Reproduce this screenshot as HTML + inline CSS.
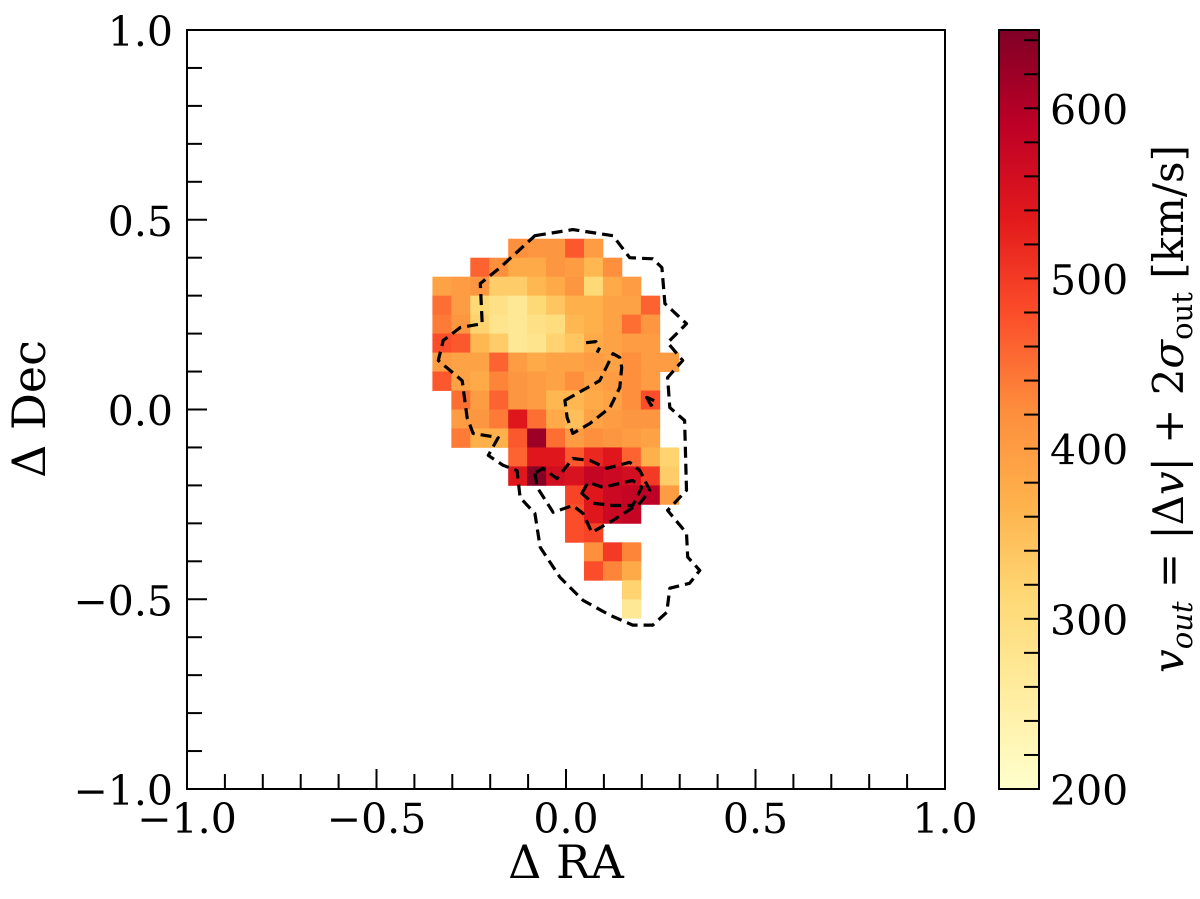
<!DOCTYPE html>
<html><head><meta charset="utf-8">
<style>
html,body{margin:0;padding:0;background:#fff;}
svg{display:block;font-family:"DejaVu Serif","Liberation Serif",serif;}
</style></head>
<body>
<svg id="chart" width="1200" height="899" viewBox="0 0 1200 899" xmlns="http://www.w3.org/2000/svg">
<defs>
<linearGradient id="cmap" x1="0" y1="1" x2="0" y2="0">
<stop offset="0" stop-color="#ffffcc"/><stop offset="0.125" stop-color="#ffeda0"/>
<stop offset="0.25" stop-color="#fed976"/><stop offset="0.375" stop-color="#feb24c"/>
<stop offset="0.5" stop-color="#fd8d3c"/><stop offset="0.625" stop-color="#fc4e2a"/>
<stop offset="0.75" stop-color="#e31a1c"/><stop offset="0.875" stop-color="#bd0026"/>
<stop offset="1" stop-color="#800026"/>
</linearGradient>
<clipPath id="plotclip"><rect x="187" y="30" width="758" height="759"/></clipPath>
</defs>
<g id="cells" clip-path="url(#plotclip)"></g>
<g id="contours"></g>
<rect x="187" y="30" width="758" height="759" fill="none" stroke="#000" stroke-width="2"/>
<g id="axes"></g>
<text x="566" y="878" font-size="46" text-anchor="middle">Δ RA</text>
<text transform="translate(45,409) rotate(-90)" font-size="46" text-anchor="middle">Δ Dec</text>
<rect x="999" y="30" width="40" height="759" fill="url(#cmap)" stroke="#000" stroke-width="2"/>
<g id="cbar-axis"></g>
<text transform="translate(1183,409) rotate(-90)" font-size="42" text-anchor="middle"><tspan font-style="italic">v</tspan><tspan font-size="29" dy="9" font-style="italic">out</tspan><tspan dy="-9"> = |Δ</tspan><tspan font-style="italic">v</tspan><tspan>| + 2</tspan><tspan font-style="italic">σ</tspan><tspan font-size="29" dy="9">out</tspan><tspan dy="-9"> [km/s]</tspan></text>
</svg>
<script>
const NS='http://www.w3.org/2000/svg';
const n=null;
const xTicks=[-1.0,-0.5,0.0,0.5,1.0];
const xTickLabels=['−1.0','−0.5','0.0','0.5','1.0'];
const yTicks=[-1.0,-0.5,0.0,0.5,1.0];
const yTickLabels=['−1.0','−0.5','0.0','0.5','1.0'];
const cbarTicks=[200,300,400,500,600];
const cbarTickLabels=['200','300','400','500','600'];
const cellX0=-0.3525, cellY0=0.45, cellSize=0.05;
const grid=[
[n,n,n,n,420,410,410,470,400,n,n,n,n],
[n,n,460,420,380,380,410,400,360,420,n,n,n],
[390,400,410,330,330,360,380,410,310,380,400,n,n],
[450,400,310,290,270,310,340,370,370,390,390,460,n],
[440,410,320,280,270,290,300,360,370,390,450,410,n],
[480,470,360,330,270,280,320,340,380,390,400,400,n],
[400,390,390,460,400,380,390,390,400,390,420,400,400],
[470,390,380,430,410,400,390,420,390,400,420,400,n],
[n,450,400,460,410,400,360,360,380,390,420,480,n],
[n,400,410,440,540,450,380,350,390,400,410,410,n],
[n,440,370,370,470,620,450,400,420,410,400,390,n],
[n,n,n,n,460,540,540,470,520,540,460,370,320],
[n,n,n,n,540,640,560,550,580,570,560,500,330],
[n,n,n,n,n,n,n,490,540,570,580,590,400],
[n,n,n,n,n,n,n,480,540,570,580,n,n],
[n,n,n,n,n,n,n,480,490,n,n,n,n],
[n,n,n,n,n,n,n,n,420,500,430,n,n],
[n,n,n,n,n,n,n,n,480,430,380,n,n],
[n,n,n,n,n,n,n,n,n,n,320,n,n],
[n,n,n,n,n,n,n,n,n,n,270,n,n]
];
const contourOuter=[[-0.082,0.458],[0.018,0.474],[0.124,0.458],[0.168,0.400],[0.229,0.397],[0.253,0.374],[0.261,0.279],[0.318,0.226],[0.268,0.176],[0.308,0.129],[0.268,0.084],[0.274,0.005],[0.313,-0.029],[0.318,-0.213],[0.268,-0.266],[0.318,-0.326],[0.321,-0.389],[0.353,-0.424],[0.326,-0.458],[0.274,-0.471],[0.266,-0.534],[0.229,-0.568],[0.176,-0.568],[0.116,-0.542],[0.045,-0.503],[-0.016,-0.442],[-0.068,-0.363],[-0.082,-0.274],[-0.121,-0.232],[-0.129,-0.161],[-0.166,-0.147],[-0.205,-0.121],[-0.179,-0.074],[-0.245,-0.063],[-0.261,-0.021],[-0.274,0.076],[-0.337,0.129],[-0.324,0.182],[-0.279,0.216],[-0.221,0.226],[-0.226,0.332],[-0.174,0.374]];
const contourRed=[[-0.082,-0.168],[-0.076,-0.205],[-0.034,-0.271],[0.018,-0.253],[0.045,-0.274],[0.068,-0.324],[0.124,-0.292],[0.195,-0.247],[0.221,-0.213],[0.195,-0.161],[0.168,-0.139],[0.108,-0.155],[0.063,-0.134],[0.018,-0.129],[-0.024,-0.182],[-0.061,-0.155]];
const contourInner=[[0.042,-0.221],[0.058,-0.192],[0.097,-0.205],[0.176,-0.187],[0.200,-0.205],[0.176,-0.253],[0.124,-0.253],[0.071,-0.247]];
const contourMid=[[-0.003,0.024],[0.089,0.076],[0.124,0.147],[0.142,0.137],[0.147,0.111],[0.142,0.058],[0.116,0.005],[0.063,-0.037],[0.018,-0.063],[0.003,-0.021]];
const contourSmallA=[[0.053,0.176],[0.079,0.179],[0.089,0.163],[0.082,0.150]];
const contourSmallB=[[0.213,0.032],[0.224,0.011],[0.237,0.021],[0.218,0.030]];

const X0=187,X1=945,Y0=789,Y1=30;
const sx=v=>X0+(v+1)/2*(X1-X0);
const sy=v=>Y0-(v+1)/2*(Y0-Y1);
const vmin=200,vmax=646;
const cy=v=>789-(v-vmin)/(vmax-vmin)*759;
const stops=['#ffffcc','#ffeda0','#fed976','#feb24c','#fd8d3c','#fc4e2a','#e31a1c','#bd0026','#800026'];
function hex(h){return [1,3,5].map(i=>parseInt(h.substr(i,2),16));}
function cmap(v){let t=Math.max(0,Math.min(1,(v-vmin)/(vmax-vmin)))*8;let i=Math.min(7,Math.floor(t));let f=t-i;
 const a=hex(stops[i]),b=hex(stops[i+1]);return 'rgb('+a.map((c,k)=>Math.round(c+(b[k]-c)*f)).join(',')+')';}
function mk(tag,attrs,parent){const e=document.createElementNS(NS,tag);for(const k in attrs)e.setAttribute(k,attrs[k]);parent.appendChild(e);return e;}

const cells=document.getElementById('cells');
grid.forEach((row,r)=>row.forEach((v,c)=>{
 if(v===null)return;
 const x=sx(cellX0+c*cellSize),y=sy(cellY0-r*cellSize);
 const w=sx(cellX0+(c+1)*cellSize)-x,h=sy(cellY0-(r+1)*cellSize)-y;
 const e=mk('rect',{x:x,y:y,width:w+0.4,height:h+0.4,fill:cmap(v)},cells);
 
 
}));

const cg=document.getElementById('contours');
[[contourOuter,true],[contourRed,true],[contourInner,true],[contourMid,true],[contourSmallA,false],[contourSmallB,true]].forEach(([pts,closed])=>{
 const d=pts.map((p,i)=>(i?'L':'M')+sx(p[0]).toFixed(1)+' '+sy(p[1]).toFixed(1)).join(' ')+(closed?' Z':'');
 const e=mk('path',{d:d,fill:'none',stroke:'#000','stroke-width':3.2,'stroke-dasharray':'11 6','stroke-linejoin':'round'},cg);
 
 
});

const ax=document.getElementById('axes');
for(let k=-10;k<=10;k++){const v=k/10;const major=k%5===0;const L=major?20:15;
 const tx=mk('line',{x1:sx(v),x2:sx(v),y1:Y0,y2:Y0-L,stroke:'#000','stroke-width':2},ax);
 
 
 const ty=mk('line',{x1:X0,x2:X0+L,y1:sy(v),y2:sy(v),stroke:'#000','stroke-width':2},ax);
 
 
}
xTicks.forEach((v,i)=>{const t=mk('text',{x:sx(v),y:Y0+44,'font-size':41,'text-anchor':'middle'},ax);t.textContent=xTickLabels[i];
 
 });
yTicks.forEach((v,i)=>{const t=mk('text',{x:173,y:sy(v)+16,'font-size':41,'text-anchor':'end'},ax);t.textContent=yTickLabels[i];
 
 });

const cb=document.getElementById('cbar-axis');
for(let v=200;v<=640;v+=20){const e=mk('line',{x1:1039,x2:1024,y1:cy(v),y2:cy(v),stroke:'#000','stroke-width':2},cb);
 
 }
cbarTicks.forEach((v,i)=>{const t=mk('text',{x:1050,y:cy(v)+16,'font-size':41},cb);t.textContent=cbarTickLabels[i];
 
 });
</script>
</body></html>
